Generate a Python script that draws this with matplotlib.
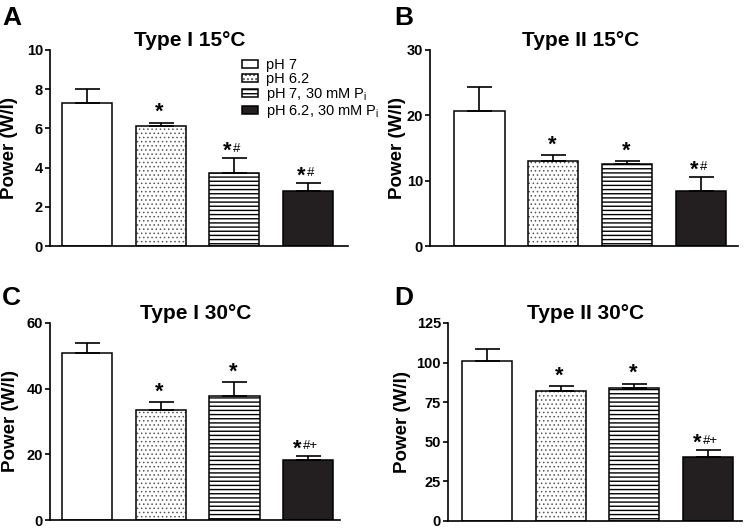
import matplotlib
matplotlib.use("Agg")
import matplotlib.pyplot as plt
from matplotlib.patches import Patch
from matplotlib.legend_handler import HandlerTuple

plt.rcParams['font.family'] = ['Liberation Sans', 'DejaVu Sans']
plt.rcParams['hatch.linewidth'] = 1.0

W, H = 745, 531

conditions = ["pH 7", "pH 6.2", r"pH 7, 30 mM P$_\mathregular{i}$",
              r"pH 6.2, 30 mM P$_\mathregular{i}$"]

titles = ["Type I 15°C", "Type II 15°C", "Type I 30°C", "Type II 30°C"]
letters = ["A", "B", "C", "D"]

# mean power (W/l) and upper SEM per condition
mean_a = [7.3, 6.1, 3.7, 2.8]
sem_a = [0.7, 0.2, 0.77, 0.42]
mean_b = [20.7, 13.0, 12.6, 8.4]
sem_b = [3.7, 0.9, 0.4, 2.2]
mean_c = [51.0, 33.5, 37.8, 18.3]
sem_c = [3.0, 2.3, 4.1, 1.3]
mean_d = [101.0, 82.0, 84.0, 40.5]
sem_d = [7.7, 3.2, 2.8, 4.3]

sig_a = ["", "*", "*#", "*#"]
sig_b = ["", "*", "*", "*#"]
sig_c = ["", "*", "*", "*#+"]
sig_d = ["", "*", "*", "*#+"]

yticks_a = [0, 2, 4, 6, 8, 10]
yticks_b = [0, 10, 20, 30]
yticks_c = [0, 20, 40, 60]
yticks_d = [0, 25, 50, 75, 100, 125]

# pixel boxes: left, top, right, bottom ; xlim ; title pad ; title centre px ; ylabel x
panels = [
    (mean_a, sem_a, sig_a, yticks_a, (50, 50, 348, 246), (-0.50, 3.54), 2.5, 190, -0.135),
    (mean_b, sem_b, sig_b, yticks_b, (430, 50, 738, 246), (-0.67, 3.50), 2.5, 581, -0.107),
    (mean_c, sem_c, sig_c, yticks_c, (50, 323, 340, 520), (-0.50, 3.43), 1.0, 196, -0.135),
    (mean_d, sem_d, sig_d, yticks_d, (448, 323, 742, 521), (-0.53, 3.46), 1.0, 586, -0.155),
]
letter_pos = [(2, 25), (394, 25), (2, 305), (394, 305)]

DARK = "#231f20"
DOT = "#555555"
BW = 0.68
LW = 1.1

fig = plt.figure(figsize=(W / 100, H / 100), dpi=100)

for k, (means, sems, sigs, yt, box, xl, tpad, tcx, ylx) in enumerate(panels):
    l, t, r, b = box
    ax = fig.add_axes([l / W, 1 - b / H, (r - l) / W, (b - t) / H])
    x = list(range(len(means)))

    ax.bar(x[0], means[0], BW, facecolor="white", edgecolor="black", linewidth=LW, zorder=2)
    with plt.rc_context({'hatch.linewidth': 0.6}):
        ax.bar(x[1], means[1], BW, facecolor="white", edgecolor=DOT, hatch="....",
               linewidth=0, zorder=2)
    ax.bar(x[1], means[1], BW, fill=False, edgecolor="black", linewidth=LW, zorder=2)
    ax.bar(x[2], means[2], BW, facecolor="white", edgecolor="black", hatch="----",
           linewidth=LW, zorder=2)
    ax.bar(x[3], means[3], BW, facecolor=DARK, edgecolor="black", linewidth=LW, zorder=2)

    ax.errorbar(x, means, yerr=[[0] * len(sems), sems], fmt="none", ecolor="black",
                elinewidth=1.2, capsize=9, capthick=1.2, zorder=3)

    for i, s in enumerate(sigs):
        if not s:
            continue
        top = means[i] + sems[i]
        rest = s[1:]
        if rest:
            sdx = -1.8 - 3.1 * len(rest)
            ax.annotate("*", (i, top), xytext=(sdx, 0.9), textcoords="offset points",
                        ha="center", va="baseline", fontsize=15.5, fontweight="bold")
            ax.annotate(rest, (i, top), xytext=(sdx + 4.0, 4.6), textcoords="offset points",
                        ha="left", va="baseline", fontsize=9.5)
        else:
            ax.annotate("*", (i, top), xytext=(-1, 3.2), textcoords="offset points",
                        ha="center", va="baseline", fontsize=15.5, fontweight="bold")

    ax.set_xlim(*xl)
    ax.set_ylim(yt[0], yt[-1])
    ax.set_yticks(yt)
    ax.set_xticks([])
    for sp in ("top", "right"):
        ax.spines[sp].set_visible(False)
    for sp in ("left", "bottom"):
        ax.spines[sp].set_linewidth(1.2)
    ax.tick_params(axis="y", direction="out", length=3.6, width=1.2, pad=1.5,
                   labelsize=10.5)
    for lab in ax.get_yticklabels():
        lab.set_fontweight("bold")

    ax.set_title(titles[k], fontsize=15, fontweight="bold", pad=tpad,
                 x=(tcx - l) / (r - l))
    ax.set_ylabel("Power (W/l)", fontsize=13.5, fontweight="bold")
    ax.yaxis.label.set_va("center")
    ax.yaxis.set_label_coords(ylx, 0.5)

    lx, ly = letter_pos[k]
    fig.text(lx / W, 1 - ly / H, letters[k], fontsize=19, fontweight="bold",
             va="baseline", ha="left")

    if k == 0:
        handles = [
            Patch(facecolor="white", edgecolor="black", linewidth=LW),
            (Patch(facecolor="white", edgecolor=DOT, hatch="....", linewidth=0),
             Patch(fill=False, edgecolor="black", linewidth=LW)),
            Patch(facecolor="white", edgecolor="black", hatch="----", linewidth=LW),
            Patch(facecolor=DARK, edgecolor="black", linewidth=LW),
        ]
        ax.legend(handles, conditions, loc="upper left", bbox_to_anchor=(0.645, 0.958),
                  frameon=False, fontsize=10.5, handlelength=1.1, handleheight=0.55,
                  handletextpad=0.5, labelspacing=0.0, borderpad=0, borderaxespad=0,
                  handler_map={tuple: HandlerTuple(ndivide=1)})

fig.savefig("out.png", dpi=100)
